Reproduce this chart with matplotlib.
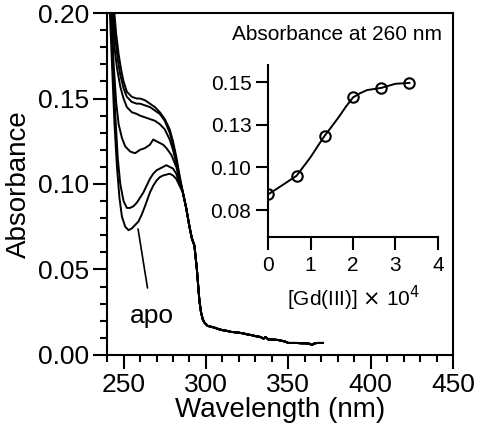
import numpy as np
import matplotlib
matplotlib.use('Agg')
from matplotlib import pyplot as plt
from matplotlib.ticker import MultipleLocator, FormatStrFormatter

plt.rcParams['font.family'] = ['Liberation Sans', 'DejaVu Sans']

# spectra (nm, absorbance); each curve runs up to 285 nm
wl_apo = [241.5, 243, 244.5, 246, 247.5, 249, 251, 253, 255, 257, 259, 261, 263, 266,
          268, 270, 272, 274, 276, 278, 280, 282, 284]
ab_apo = [0.205, 0.17, 0.135, 0.11, 0.092, 0.081, 0.075, 0.073, 0.074, 0.076, 0.078,
          0.082, 0.087, 0.095, 0.099, 0.102, 0.104, 0.105, 0.1055, 0.106, 0.105, 0.103, 0.099]

wl_c2 = [242, 243.5, 245, 246.5, 248, 250, 252, 254, 256, 258, 260, 262, 264, 266,
         268, 270, 272, 274, 276, 278, 280, 282, 284]
ab_c2 = [0.205, 0.17, 0.14, 0.115, 0.1, 0.09, 0.086, 0.086, 0.087, 0.089, 0.092, 0.095,
         0.099, 0.103, 0.106, 0.108, 0.109, 0.110, 0.111, 0.110, 0.109, 0.106, 0.1]

wl_c3 = [242.5, 244, 245.5, 247, 249, 251, 254, 257, 260, 263, 266, 268, 270, 272,
         274, 276, 279, 282, 284]
ab_c3 = [0.205, 0.17, 0.148, 0.135, 0.127, 0.122, 0.119, 0.118, 0.12, 0.121, 0.123,
         0.126, 0.125, 0.124, 0.123, 0.121, 0.117, 0.11, 0.102]

wl_c4 = [243, 244.5, 246, 248, 250, 252, 255, 258, 260, 263, 266, 269, 272, 275,
         278, 280, 282, 284]
ab_c4 = [0.205, 0.18, 0.168, 0.157, 0.15, 0.145, 0.142, 0.141, 0.140, 0.139, 0.138,
         0.137, 0.135, 0.132, 0.126, 0.12, 0.112, 0.103]

wl_c5 = [243.5, 245, 246.5, 248, 250, 252, 255, 258, 260, 263, 266, 269, 272, 275,
         278, 280, 282, 284]
ab_c5 = [0.205, 0.185, 0.173, 0.164, 0.156, 0.151, 0.148, 0.147, 0.147, 0.146, 0.145,
         0.143, 0.141, 0.137, 0.13, 0.123, 0.114, 0.104]

wl_c6 = [244, 245.5, 247, 248.5, 250, 252, 255, 258, 260, 263, 266, 269, 272, 275,
         278, 280, 282, 284]
ab_c6 = [0.205, 0.188, 0.176, 0.167, 0.16, 0.154, 0.151, 0.150, 0.150, 0.149, 0.147,
         0.145, 0.142, 0.138, 0.132, 0.125, 0.116, 0.105]

# shared tail above 285 nm
wl_tail = [286, 288, 290, 291.5, 293, 294.5, 296, 297, 298, 299, 301, 303, 305, 308,
           310, 313, 315, 318, 320, 323, 325, 328, 330, 333, 335, 336, 338, 340, 343,
           345, 348, 350, 353, 355, 358, 360, 363, 364, 365, 366, 368, 371]
ab_tail = [0.095, 0.086, 0.075, 0.068, 0.064, 0.05, 0.032, 0.025, 0.021, 0.019, 0.017,
           0.0165, 0.016, 0.015, 0.0145, 0.014, 0.0135, 0.0132, 0.013, 0.0125, 0.012,
           0.0115, 0.011, 0.0105, 0.0095, 0.0105, 0.009, 0.009, 0.0088, 0.0085, 0.0078,
           0.007, 0.007, 0.007, 0.0068, 0.0068, 0.0065, 0.0058, 0.0062, 0.0068, 0.007, 0.007]

spectra = [(wl_apo, ab_apo), (wl_c2, ab_c2), (wl_c3, ab_c3),
           (wl_c4, ab_c4), (wl_c5, ab_c5), (wl_c6, ab_c6)]

# inset: absorbance at 260 nm vs [Gd(III)] x 10^4
gd = [0.0, 0.67, 1.33, 2.0, 2.67, 3.33]
a260 = [0.0842, 0.0951, 0.1185, 0.141, 0.1466, 0.1495]
gd_fit = [0.0, 0.33, 0.67, 1.0, 1.17, 1.33, 1.5, 1.67, 1.83, 2.0, 2.17, 2.33, 2.67, 3.0, 3.33]
a_fit = [0.0842, 0.0895, 0.0951, 0.106, 0.1125, 0.1185, 0.124, 0.1297, 0.1355, 0.141,
         0.1435, 0.1453, 0.1466, 0.149, 0.1495]

fig = plt.figure(figsize=(4.78, 4.36), dpi=100)
ax = fig.add_axes([0.224, 0.186, 0.724, 0.784])

for w, a in spectra:
    ax.plot(list(w) + wl_tail, list(a) + ab_tail, color='black', lw=1.4)

ax.set_xlim(240, 450)
ax.set_ylim(0, 0.2)
ax.xaxis.set_major_locator(MultipleLocator(50))
ax.xaxis.set_minor_locator(MultipleLocator(10))
ax.yaxis.set_major_locator(MultipleLocator(0.05))
ax.yaxis.set_minor_locator(MultipleLocator(0.01))
ax.yaxis.set_major_formatter(FormatStrFormatter('%.2f'))
for s in ax.spines.values():
    s.set_linewidth(1.5)
ax.tick_params(which='major', direction='out', length=10, width=1.5, labelsize=19, pad=3)
ax.tick_params(which='minor', direction='out', length=5, width=1.5)
ax.tick_params(top=False, right=False)
ax.set_xlabel('Wavelength (nm)', fontsize=20, labelpad=0)
ax.set_ylabel('Absorbance', fontsize=20, labelpad=4)

ax.annotate('apo', xy=(258.8, 0.0737), xytext=(267.3, 0.0225), fontsize=19,
            ha='center', va='center',
            arrowprops=dict(arrowstyle='-', color='black', lw=1.2, shrinkA=10, shrinkB=0))

ins = fig.add_axes([0.561, 0.4564, 0.355, 0.3945])
ins.plot(gd_fit, a_fit, color='black', lw=1.4)
ins.plot(gd, a260, 'o', color='black', mfc='none', ms=7.5, mew=1.5)
ins.set_xlim(0, 4)
ins.set_ylim(0.0592, 0.16)
ins.set_xticks([0, 1, 2, 3, 4])
ins.set_yticks([0.075, 0.1, 0.125, 0.15])
ins.set_yticklabels(['0.08', '0.10', '0.13', '0.15'])
ins.spines['top'].set_visible(False)
ins.spines['right'].set_visible(False)
for s in ['left', 'bottom']:
    ins.spines[s].set_linewidth(1.5)
ins.patch.set_alpha(0)
ins.tick_params(axis='y', direction='out', length=9, width=1.5, labelsize=15, pad=3)
ins.tick_params(axis='x', direction='out', length=9, width=1.5, labelsize=15, pad=5)
ins.set_xlabel(r'[Gd(III)] $\times$ 10$^4$', fontsize=15, labelpad=6)
fig.text(0.705, 0.92, 'Absorbance at 260 nm', fontsize=15, ha='center', va='center')

fig.savefig('out.png', dpi=100)
